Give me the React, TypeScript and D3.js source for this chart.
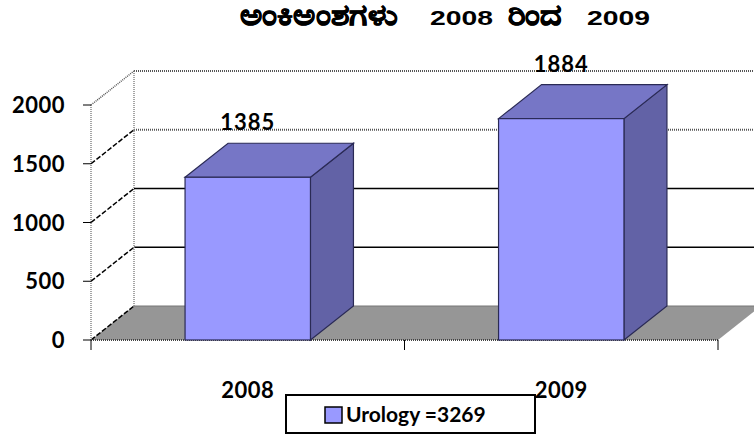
import React from "react";
import * as d3 from "d3";

// chart data
const categories = ["2008", "2009"];
const values = [1385, 1884];
const yTicks = [0, 500, 1000, 1500, 2000];
const seriesName = "Urology =3269";
const titleParts = ["ಅಂಕಿಅಂಶಗಳು", "2008", "ರಿಂದ", "2009"];
// horizontal spans of the title words in the reference
const titleSpans: [number, number][] = [
  [240, 397],
  [430, 493],
  [508, 562],
  [587, 650],
];

const W = 754;
const H = 435;

const App: React.FC = () => {
  // front plane geometry
  const left = 91;
  const right = 718;
  const floorY = 340;
  const topY = 105;
  // depth offset of the back wall
  const dx = 43;
  const dy = -34;

  const x = d3.scaleBand<string>().domain(categories).range([left, right]).padding(0);
  const y = d3.scaleLinear().domain([0, 2000]).range([floorY, topY]);
  const barW = x.bandwidth() * 0.4;

  const numFont = "Lato, 'Open Sans', sans-serif";
  const front = "#9999ff";
  const topFace = "#7676c6";
  const sideFace = "#6262a6";
  const edge = "#2a2a55";

  const poly = (pts: [number, number][]) => pts.map((p) => p.join(",")).join(" ");

  return (
    <svg
      width={W}
      height={H}
      style={{ position: "absolute", left: 0, top: 0, background: "#fff" }}
    >
      {/* title: each word placed on its own, Kannada set larger and thickened (fallback font draws small and thin) */}
      {titleParts.map((p, i) => {
        const kn = i % 2 === 0;
        return (
          <text
            key={"t" + i}
            x={titleSpans[i][0]}
            y={25}
            textLength={titleSpans[i][1] - titleSpans[i][0]}
            lengthAdjust="spacingAndGlyphs"
            fontFamily="'Liberation Sans', Arial, sans-serif"
            fontWeight="bold"
            fontSize={kn ? 29 : 20}
            fill="#000"
            stroke={kn ? "#000" : "none"}
            strokeWidth={kn ? 0.7 : 0}
          >
            {p}
          </text>
        );
      })}

      {/* floor */}
      <polygon
        points={poly([
          [left, floorY],
          [right, floorY],
          [right + dx, floorY + dy],
          [left + dx, floorY + dy],
        ])}
        fill="#969696"
      />
      <line x1={left + dx} x2={W} y1={floorY + dy} y2={floorY + dy} stroke="#777" strokeWidth={1} />

      {/* back wall gridlines */}
      {yTicks
        .filter((t) => t > 0)
        .map((t) => {
          const dotted = t >= 1500;
          return (
            <line
              key={"g" + t}
              x1={left + dx}
              x2={W}
              y1={y(t) + dy}
              y2={y(t) + dy}
              stroke={dotted ? "#555" : "#000"}
              strokeWidth={dotted ? 2 : 1.5}
              strokeDasharray={dotted ? "1,1" : undefined}
            />
          );
        })}

      {/* side wall edges */}
      <line x1={left} x2={left} y1={y(2000)} y2={floorY} stroke="#888" strokeWidth={1.5} strokeDasharray="1,1" />
      <line
        x1={left + dx}
        x2={left + dx}
        y1={y(2000) + dy}
        y2={floorY + dy}
        stroke="#888"
        strokeWidth={1.5}
        strokeDasharray="1,1"
      />
      {yTicks.map((t) => (
        <line
          key={"d" + t}
          x1={left}
          y1={y(t)}
          x2={left + dx}
          y2={y(t) + dy}
          stroke={t === 2000 ? "#555" : "#000"}
          strokeWidth={1.5}
          strokeDasharray={t === 2000 ? "1,1" : "5,2"}
        />
      ))}

      {/* front floor edge + ticks */}
      <line x1={left} x2={right} y1={floorY} y2={floorY} stroke="#444" strokeWidth={2} strokeDasharray="1,1" />
      {[left, x(categories[1]) as number, right].map((tx, i) => (
        <line key={"xt" + i} x1={tx} x2={tx} y1={floorY} y2={floorY + 10} stroke="#000" strokeWidth={1} />
      ))}
      {yTicks.map((t) => (
        <line key={"yt" + t} x1={left - 8} x2={left} y1={y(t)} y2={y(t)} stroke="#000" strokeWidth={1} />
      ))}

      {/* y tick labels */}
      {yTicks.map((t) => (
        <text
          key={"yl" + t}
          x={65}
          y={y(t) + 8}
          textAnchor="end"
          fontFamily={numFont}
          fontWeight="bold"
          fontSize={22}
          letterSpacing={0.5}
          fill="#000"
        >
          {t}
        </text>
      ))}

      {/* bars */}
      {categories.map((c, i) => {
        const v = values[i];
        const bx = (x(c) as number) + (x.bandwidth() - barW) / 2;
        const by = y(v);
        return (
          <g key={"b" + c}>
            <polygon
              points={poly([
                [bx + barW, by],
                [bx + barW + dx, by + dy],
                [bx + barW + dx, floorY + dy],
                [bx + barW, floorY],
              ])}
              fill={sideFace}
              stroke={edge}
              strokeWidth={1.2}
            />
            <polygon
              points={poly([
                [bx, by],
                [bx + dx, by + dy],
                [bx + barW + dx, by + dy],
                [bx + barW, by],
              ])}
              fill={topFace}
              stroke={edge}
              strokeWidth={1.2}
            />
            <rect x={bx} y={by} width={barW} height={floorY - by} fill={front} stroke={edge} strokeWidth={1.2} />
            <text
              x={bx + barW / 2}
              y={by + dy - 13}
              textAnchor="middle"
              fontFamily={numFont}
              fontWeight="bold"
              fontSize={22}
              letterSpacing={1}
              fill="#000"
            >
              {v}
            </text>
          </g>
        );
      })}

      {/* category labels */}
      {categories.map((c) => (
        <text
          key={"c" + c}
          x={(x(c) as number) + x.bandwidth() / 2}
          y={398}
          textAnchor="middle"
          fontFamily={numFont}
          fontWeight="bold"
          fontSize={22}
          letterSpacing={0.5}
          fill="#000"
        >
          {c}
        </text>
      ))}

      {/* legend */}
      <rect x={286} y={395} width={249} height={38} fill="#fff" stroke="#000" strokeWidth={2} />
      <rect x={325} y={407} width={17} height={16} fill={front} stroke="#000" strokeWidth={1.5} />
      <text x={346} y={422} fontFamily={numFont} fontWeight="bold" fontSize={21} fill="#000">
        {seriesName}
      </text>
    </svg>
  );
};

export default App;
